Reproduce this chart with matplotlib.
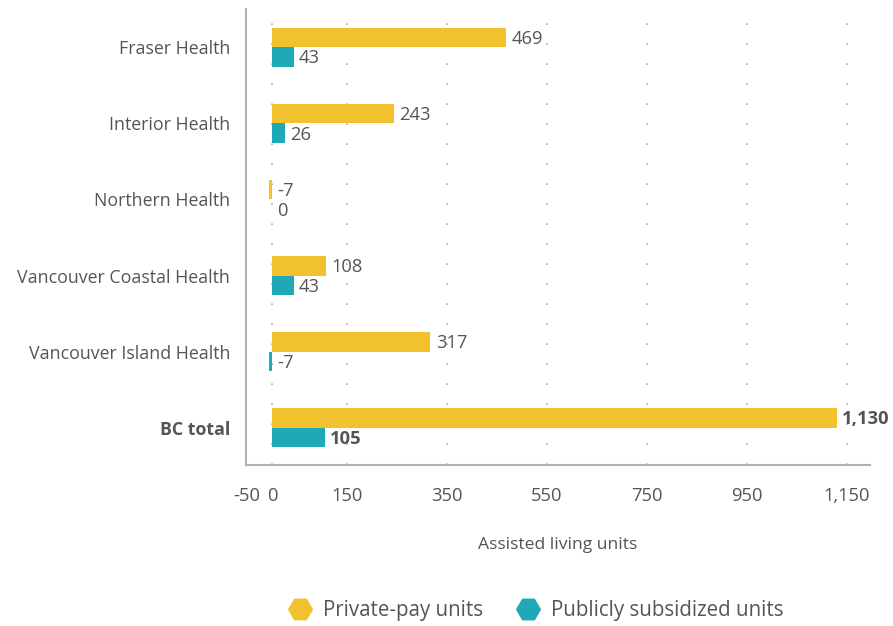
import matplotlib
matplotlib.use("Agg")
import matplotlib.pyplot as plt
from matplotlib.lines import Line2D
import numpy as np

categories = ["Fraser Health", "Interior Health", "Northern Health",
              "Vancouver Coastal Health", "Vancouver Island Health", "BC total"]
private_pay = [469, 243, -7, 108, 317, 1130]
subsidized = [43, 26, 0, 43, -7, 105]
xticks = [-50, 0, 150, 350, 550, 750, 950, 1150]
xtick_labels = ["-50", "0", "150", "350", "550", "750", "950", "1,150"]

YELLOW = "#F2C12E"
TEAL = "#1FA8B5"
TEXT = "#555555"
plt.rcParams['font.family'] = ['Open Sans', 'DejaVu Sans']

fig = plt.figure(figsize=(8.93, 6.26), dpi=100)
ax = fig.add_axes([0.275, 0.2572, 0.699, 0.7292])

y = np.arange(len(categories))
h = 0.257
ax.barh(y - h / 2, private_pay, height=h, color=YELLOW, zorder=3)
ax.barh(y + h / 2, subsidized, height=h, color=TEAL, zorder=3)

def fmt(v):
    return f"{v:,}"

for i, (p, s) in enumerate(zip(private_pay, subsidized)):
    bold = categories[i] == "BC total"
    fw = "bold" if bold else "normal"
    ax.annotate(fmt(p), (max(p, 0), y[i] - h / 2), xytext=(4, -1),
                textcoords="offset points", va="center", ha="left",
                fontsize=13.2, color=TEXT, fontweight=fw)
    ax.annotate(fmt(s), (max(s, 0), y[i] + h / 2), xytext=(4, -1),
                textcoords="offset points", va="center", ha="left",
                fontsize=13.2, color=TEXT, fontweight=fw)

ax.set_xlim(-53, 1196)
ax.set_ylim(5.49, -0.51)
ax.set_yticks(y)
ax.set_yticklabels(categories, fontsize=12.8, color=TEXT)
for lbl in ax.get_yticklabels():
    if lbl.get_text() == "BC total":
        lbl.set_fontweight("bold")
ax.set_xticks(xticks)
ax.set_xticklabels(xtick_labels, fontsize=13.2, color=TEXT)
ax.tick_params(axis="both", length=0)
ax.tick_params(axis="y", pad=11)
ax.tick_params(axis="x", pad=16)

for xv in xticks:
    if xv >= 0:
        ax.axvline(xv, color="#AAAAAA", linestyle=(0, (1, 11)), linewidth=1.2, zorder=1)

for side in ["top", "right"]:
    ax.spines[side].set_visible(False)
for side in ["left", "bottom"]:
    ax.spines[side].set_color("#AEB4B4")
    ax.spines[side].set_linewidth(1.5)

ax.set_xlabel("Assisted living units", fontsize=12.6, color=TEXT, labelpad=23)

handles = [Line2D([], [], marker="H", linestyle="none", markersize=17,
                  markerfacecolor=YELLOW, markeredgecolor=YELLOW, label="Private-pay units"),
           Line2D([], [], marker="H", linestyle="none", markersize=17,
                  markerfacecolor=TEAL, markeredgecolor=TEAL, label="Publicly subsidized units")]
leg = fig.legend(handles=handles, loc="center", bbox_to_anchor=(0.595, 0.024),
                 ncol=2, frameon=False, fontsize=14.8, handletextpad=0.1,
                 columnspacing=1.2)
for t in leg.get_texts():
    t.set_color(TEXT)

fig.savefig("out.png", dpi=100)
